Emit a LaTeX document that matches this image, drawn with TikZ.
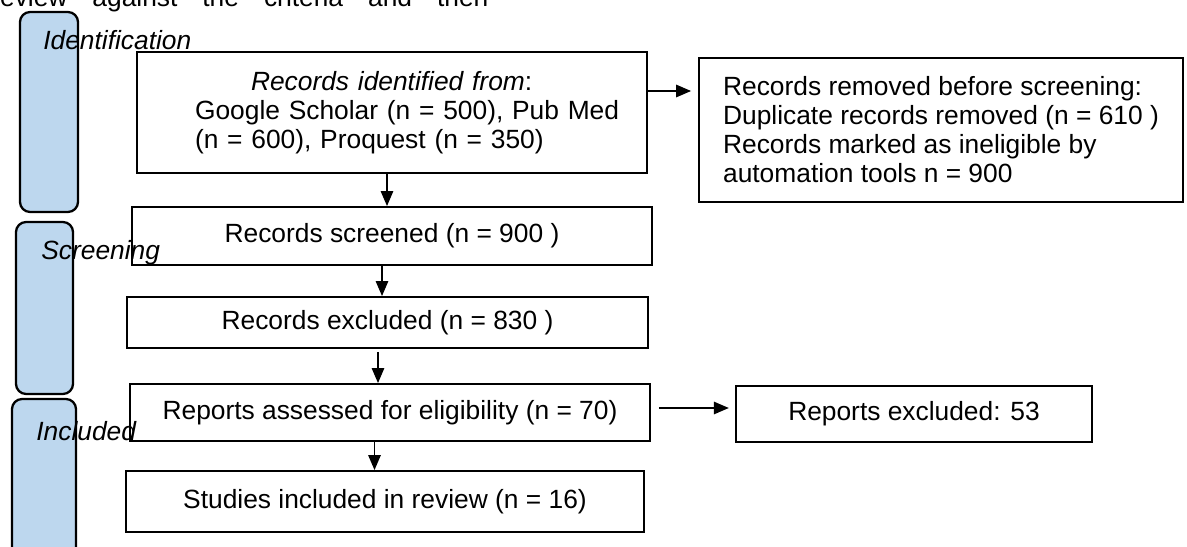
\documentclass[tikz,border=0pt]{standalone}
\usepackage{fontspec}
\setmainfont{Liberation Sans}
\usetikzlibrary{positioning,arrows.meta}

\definecolor{phaseblue}{RGB}{189,215,238}
\tikzset{
  box/.style={draw, line width=1.1pt, rectangle, inner sep=0pt},
  phase/.style={draw, line width=1.3pt, rounded corners=0.2cm, fill=phaseblue},
  phaselabel/.style={anchor=base west, inner sep=0pt, font=\fontsize{15}{16.5}\selectfont\itshape},
  arr/.style={-{Triangle[length=0.3cm,width=0.25cm]}, line width=0.8pt},
}

\begin{document}
\begin{tikzpicture}[x=0.02cm, y=-0.02cm, font=\fontsize{15}{16.5}\selectfont]
  \useasboundingbox (0,0) rectangle (1187,547);
  \clip (0,0) rectangle (1187,547);

  \node[anchor=base west, inner sep=0pt] (runon) at (-9,7) {\spaceskip=0.5cm\relax review against the criteria and then};

  \node[phase, minimum width=1.16cm, minimum height=4cm] (idbar) at (49,112) {};
  \node[phase, minimum width=1.14cm, minimum height=3.44cm] (scrbar) at (44.5,308) {};
  \node[phase, minimum width=1.28cm, minimum height=3.32cm] (incbar) at (44,482) {};
  \node[phaselabel] (idlabel) at (43,50) {Identification};
  \node[phaselabel] (scrlabel) at (41,260) {Screening};
  \node[phaselabel] (inclabel) at (36,440) {Included};

  \node[box, minimum width=10.2cm, minimum height=2.42cm, text width=10.2cm, align=left] (found) at (392,112.5)
    {\hspace*{2.28cm}\textit{Records identified from}:\\
     \hspace*{1.16cm}Google Scholar (n = 500), Pub Med\\
     \hspace*{1.16cm}(n = 600), Proquest (n = 350)};
  \node[box, minimum width=9.68cm, minimum height=2.88cm, align=left] (removed) at (941,130)
    {Records removed before screening:\\Duplicate records removed (n = 610 )\\Records marked as ineligible by\\automation tools n = 900};
  \node[box, minimum width=10.39cm, minimum height=1.16cm] (screened) at (392,236) {Records screened (n = 900 )};
  \node[box, minimum width=10.42cm, minimum height=1.02cm] (excluded) at (387.5,322.5) {Records excluded (n = 830 )};
  \node[box, minimum width=10.4cm, minimum height=1.14cm] (assessed) at (390,412.5) {Reports assessed for eligibility (n = 70)};
  \node[box, minimum width=7.11cm, minimum height=1.12cm] (dropped) at (914,414) {Reports excluded: 53};
  \node[box, minimum width=10.36cm, minimum height=1.22cm] (studies) at (385,501.5) {Studies included in review (n = 16)};

  \draw[arr, shorten >=0.14cm] ([yshift=0.43cm]found.east) -- ([yshift=0.43cm]found.east -| removed.west);
  \draw[arr] ([xshift=-0.1cm]found.south) -- ([xshift=-0.1cm]found.south |- screened.north);
  \draw[arr] ([xshift=-0.2cm]screened.south) -- ([xshift=-0.2cm]screened.south |- excluded.north);
  \draw[arr, shorten <=0.06cm] ([xshift=-0.19cm]excluded.south) -- ([xshift=-0.19cm]excluded.south |- assessed.north);
  \draw[arr] ([xshift=-0.31cm]assessed.south) -- ([xshift=-0.31cm]assessed.south |- studies.north);
  \draw[arr, shorten <=0.16cm, shorten >=0.13cm] ([yshift=0.09cm]assessed.east) -- ([yshift=0.09cm]assessed.east -| dropped.west);
\end{tikzpicture}
\end{document}
